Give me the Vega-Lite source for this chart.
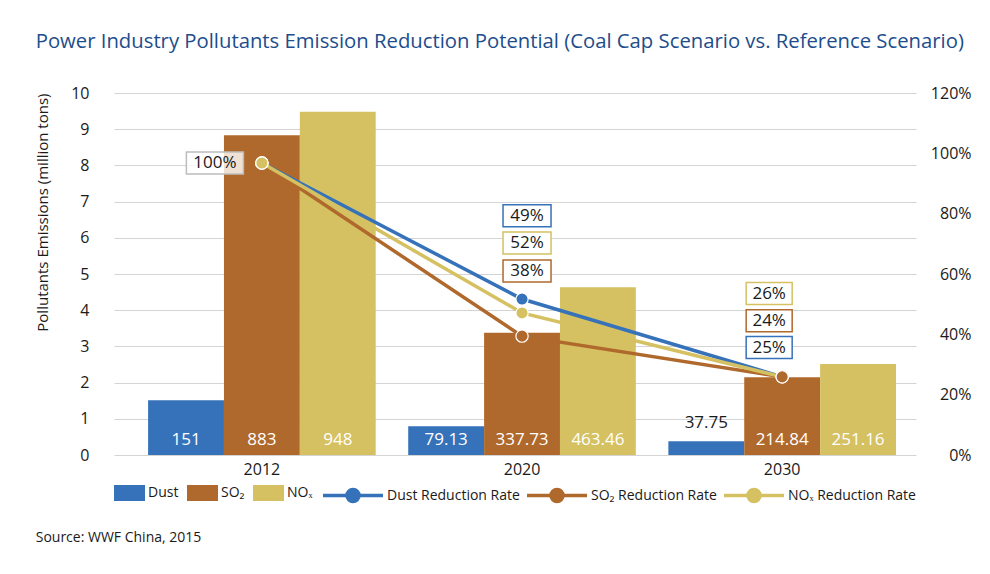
{
  "$schema": "https://vega.github.io/schema/vega-lite/v6.json",
  "padding": {"left": 35, "top": 31, "right": 5, "bottom": 5},
  "background": "white",
  "config": {
    "font": "Open Sans",
    "view": {"stroke": null},
    "axis": {"labelColor": "#1a1a1a", "titleColor": "#1a1a1a", "labelFont": "Open Sans", "titleFont": "Open Sans"},
    "legend": {"labelFont": "Open Sans", "labelColor": "#1a1a1a"}
  },
  "title": {"text": "Source: WWF China, 2015", "orient": "bottom", "anchor": "start", "frame": "bounds", "fontSize": 14, "fontWeight": "normal", "color": "#1a1a1a", "offset": 22},
  "datasets": {
    "bars": [
      {"year": "2012", "pollutant": "Dust", "emission": 1.51, "label": "151"},
      {"year": "2012", "pollutant": "SO₂", "emission": 8.83, "label": "883"},
      {"year": "2012", "pollutant": "NOₓ", "emission": 9.48, "label": "948"},
      {"year": "2020", "pollutant": "Dust", "emission": 0.7913, "label": "79.13"},
      {"year": "2020", "pollutant": "SO₂", "emission": 3.3773, "label": "337.73"},
      {"year": "2020", "pollutant": "NOₓ", "emission": 4.6346, "label": "463.46"},
      {"year": "2030", "pollutant": "Dust", "emission": 0.3775, "label": "37.75"},
      {"year": "2030", "pollutant": "SO₂", "emission": 2.1484, "label": "214.84"},
      {"year": "2030", "pollutant": "NOₓ", "emission": 2.5116, "label": "251.16"}
    ],
    "rates": [
      {"year": "2012", "series": "Dust Reduction Rate", "rate": 96.8},
      {"year": "2012", "series": "SO₂ Reduction Rate", "rate": 96.8},
      {"year": "2012", "series": "NOₓ Reduction Rate", "rate": 96.8},
      {"year": "2020", "series": "Dust Reduction Rate", "rate": 51.7},
      {"year": "2020", "series": "SO₂ Reduction Rate", "rate": 39.4},
      {"year": "2020", "series": "NOₓ Reduction Rate", "rate": 47.1},
      {"year": "2030", "series": "NOₓ Reduction Rate", "rate": 25.9},
      {"year": "2030", "series": "Dust Reduction Rate", "rate": 25.9},
      {"year": "2030", "series": "SO₂ Reduction Rate", "rate": 25.9}
    ],
    "labels": [
      {"year": "2012", "series": "NOₓ Reduction Rate", "label": "100%", "labelAt": 96.8},
      {"year": "2020", "series": "Dust Reduction Rate", "label": "49%", "labelAt": 79.3},
      {"year": "2020", "series": "NOₓ Reduction Rate", "label": "52%", "labelAt": 70.3},
      {"year": "2020", "series": "SO₂ Reduction Rate", "label": "38%", "labelAt": 61.0},
      {"year": "2030", "series": "NOₓ Reduction Rate", "label": "26%", "labelAt": 53.5},
      {"year": "2030", "series": "SO₂ Reduction Rate", "label": "24%", "labelAt": 44.5},
      {"year": "2030", "series": "Dust Reduction Rate", "label": "25%", "labelAt": 35.6}
    ]
  },
  "vconcat": [
    {
      "title": {"text": "Power Industry Pollutants Emission Reduction Potential (Coal Cap Scenario vs. Reference Scenario)", "anchor": "start", "frame": "bounds", "fontSize": 20.3, "fontWeight": "normal", "color": "#1d4d8c", "offset": 33},
      "width": 802,
      "height": 362,
      "resolve": {"scale": {"y": "independent"}},
      "layer": [
        {
          "data": {"name": "bars"},
          "layer": [
            {
              "mark": {"type": "bar"},
              "encoding": {
                "x": {"field": "year", "type": "nominal", "scale": {"paddingInner": 0.125, "paddingOuter": 0.104, "align": 0.63},
                      "axis": {"title": null, "labelAngle": 0, "labelFontSize": 16, "labelPadding": 6, "ticks": false, "tickSize": 0, "domain": false, "grid": false}},
                "xOffset": {"field": "pollutant", "type": "nominal", "sort": ["Dust", "SO₂", "NOₓ"], "scale": {"paddingInner": 0, "paddingOuter": 0}},
                "y": {"field": "emission", "type": "quantitative", "scale": {"domain": [0, 10], "nice": false},
                      "axis": {"values": [0, 1, 2, 3, 4, 5, 6, 7, 8, 9, 10], "labelOverlap": false, "title": "Pollutants Emissions (million tons)", "titleAnchor": "end", "titleFontSize": 15, "titleFontWeight": "normal", "titlePadding": 20, "labelFontSize": 16, "labelPadding": 25, "ticks": false, "tickSize": 0, "domain": false, "grid": true, "gridColor": "#d4d4d4", "gridWidth": 1}},
                "fill": {"field": "pollutant", "type": "nominal",
                         "scale": {"domain": ["Dust", "SO₂", "NOₓ"], "range": ["#3672b9", "#b0692c", "#d5c162"]},
                         "legend": {"title": null, "orient": "bottom", "direction": "horizontal", "symbolType": "M-1,-1 L2.875,-1 L2.875,1 L-1,1 Z", "symbolSize": 256, "symbolStrokeWidth": 0, "labelOffset": 18, "labelFontSize": 14, "columnPadding": 8, "offset": 8}}
              }
            },
            {
              "transform": [{"filter": "datum.emission > 0.5"}],
              "mark": {"type": "text", "color": "white", "fontSize": 17, "baseline": "middle", "dy": -15},
              "encoding": {
                "x": {"field": "year", "type": "nominal"},
                "xOffset": {"field": "pollutant", "type": "nominal", "sort": ["Dust", "SO₂", "NOₓ"]},
                "y": {"datum": 0, "type": "quantitative",
                      "axis": {"values": [0, 1, 2, 3, 4, 5, 6, 7, 8, 9, 10], "labelOverlap": false, "title": "Pollutants Emissions (million tons)", "titleAnchor": "end", "titleFontSize": 15, "titleFontWeight": "normal", "titlePadding": 20, "labelFontSize": 16, "labelPadding": 25, "ticks": false, "tickSize": 0, "domain": false, "grid": true, "gridColor": "#d4d4d4", "gridWidth": 1}},
                "text": {"field": "label"}
              }
            },
            {
              "transform": [{"filter": "datum.emission <= 0.5"}],
              "mark": {"type": "text", "color": "#1a1a1a", "fontSize": 17, "baseline": "middle", "dy": -18},
              "encoding": {
                "x": {"field": "year", "type": "nominal"},
                "xOffset": {"field": "pollutant", "type": "nominal", "sort": ["Dust", "SO₂", "NOₓ"]},
                "y": {"field": "emission", "type": "quantitative",
                      "axis": {"values": [0, 1, 2, 3, 4, 5, 6, 7, 8, 9, 10], "labelOverlap": false, "title": "Pollutants Emissions (million tons)", "titleAnchor": "end", "titleFontSize": 15, "titleFontWeight": "normal", "titlePadding": 20, "labelFontSize": 16, "labelPadding": 25, "ticks": false, "tickSize": 0, "domain": false, "grid": true, "gridColor": "#d4d4d4", "gridWidth": 1}},
                "text": {"field": "label"}
              }
            }
          ]
        },
        {
          "layer": [
            {
              "data": {"name": "rates"},
              "mark": {"type": "line", "strokeWidth": 3.5},
              "encoding": {
                "x": {"field": "year", "type": "nominal"},
                "y": {"field": "rate", "type": "quantitative", "title": null, "scale": {"domain": [0, 120], "nice": false},
                      "axis": {"orient": "right", "values": [0, 20, 40, 60, 80, 100, 120], "labelExpr": "datum.value + '%'", "grid": false, "ticks": false, "tickSize": 0, "domain": false, "labelFontSize": 16, "labelAlign": "right", "labelPadding": 55}},
                "stroke": {"field": "series", "type": "nominal",
                           "scale": {"domain": ["Dust Reduction Rate", "SO₂ Reduction Rate", "NOₓ Reduction Rate"], "range": ["#3672b9", "#b0692c", "#d5c162"]},
                           "legend": {"title": null, "orient": "bottom", "direction": "horizontal", "symbolType": "M-1,0 L6.5,0 M2,0 A0.75,0.75 0 1,1 3.5,0 A0.75,0.75 0 1,1 2,0", "symbolSize": 256, "symbolStrokeWidth": 3.5, "labelOffset": 46, "labelFontSize": 14, "columnPadding": 0, "offset": 8}}
              }
            },
            {
              "data": {"name": "rates"},
              "mark": {"type": "point", "filled": true, "size": 150, "stroke": "white", "strokeWidth": 1.2, "opacity": 1},
              "encoding": {
                "x": {"field": "year", "type": "nominal"},
                "y": {"field": "rate", "type": "quantitative", "title": null},
                "color": {"field": "series", "type": "nominal",
                          "scale": {"domain": ["Dust Reduction Rate", "SO₂ Reduction Rate", "NOₓ Reduction Rate"], "range": ["#3672b9", "#b0692c", "#d5c162"]},
                          "legend": null}
              }
            },
            {
              "data": {"name": "labels"},
              "mark": {"type": "point", "filled": true, "fill": "white", "size": 256, "strokeWidth": 1.5, "opacity": 1},
              "encoding": {
                "x": {"field": "year", "type": "nominal"},
                "y": {"field": "labelAt", "type": "quantitative", "title": null},
                "shape": {"field": "year", "type": "nominal", "legend": null,
                          "scale": {"domain": ["2012", "2020", "2030"], "range": [
                            "M-9.44,-1.375 L-2.31,-1.375 L-2.31,1.375 L-9.44,1.375 Z",
                            "M-2.375,-1.375 L3.625,-1.375 L3.625,1.375 L-2.375,1.375 Z",
                            "M-4.5,-1.375 L1.25,-1.375 L1.25,1.375 L-4.5,1.375 Z"]}},
                "stroke": {"condition": {"test": "datum.year === '2012'", "value": "#bdbdbd"}, "field": "series", "type": "nominal"},
                "fillOpacity": {"condition": {"test": "datum.year === '2012'", "value": 0.8}, "value": 1}
              }
            },
            {
              "data": {"name": "labels"},
              "transform": [{"filter": "datum.year === '2012'"}],
              "mark": {"type": "text", "fontSize": 17, "baseline": "middle", "color": "#1a1a1a", "dx": -47},
              "encoding": {
                "x": {"field": "year", "type": "nominal"},
                "y": {"field": "labelAt", "type": "quantitative", "title": null},
                "text": {"field": "label"}
              }
            },
            {
              "data": {"name": "labels"},
              "transform": [{"filter": "datum.year === '2020'"}],
              "mark": {"type": "text", "fontSize": 17, "baseline": "middle", "color": "#1a1a1a", "dx": 5},
              "encoding": {
                "x": {"field": "year", "type": "nominal"},
                "y": {"field": "labelAt", "type": "quantitative", "title": null},
                "text": {"field": "label"}
              }
            },
            {
              "data": {"name": "labels"},
              "transform": [{"filter": "datum.year === '2030'"}],
              "mark": {"type": "text", "fontSize": 17, "baseline": "middle", "color": "#1a1a1a", "dx": -13},
              "encoding": {
                "x": {"field": "year", "type": "nominal"},
                "y": {"field": "labelAt", "type": "quantitative", "title": null},
                "text": {"field": "label"}
              }
            }
          ]
        }
      ]
    }
  ]
}
